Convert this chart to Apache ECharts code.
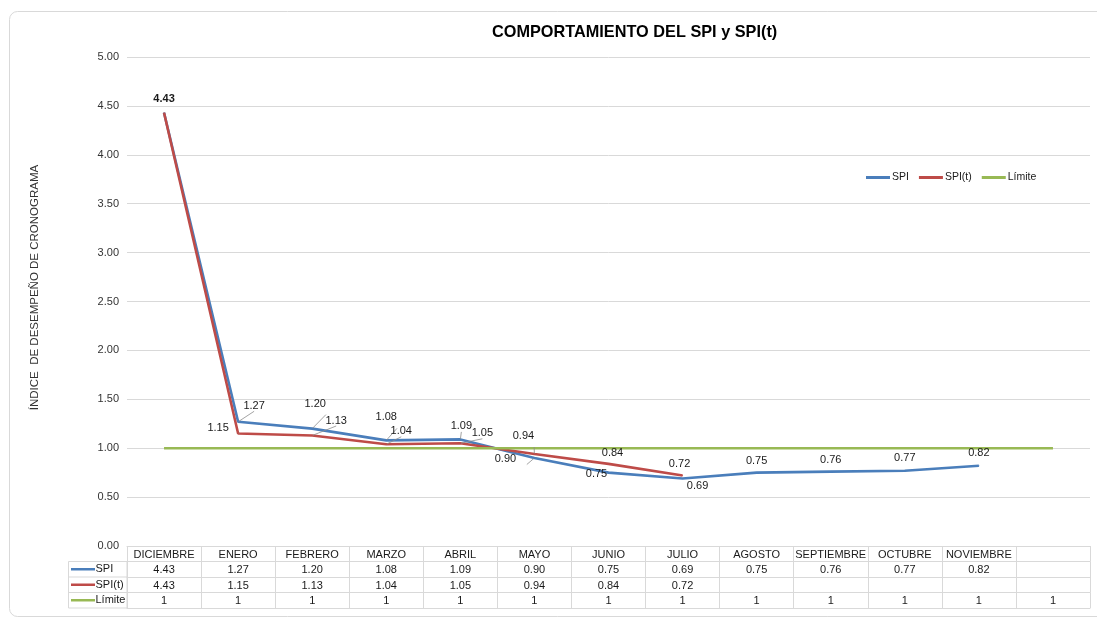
<!DOCTYPE html>
<html>
<head>
<meta charset="utf-8">
<script src="https://cdn.jsdelivr.net/npm/echarts@6/dist/echarts.min.js"></script>
<style>
  html, body { margin: 0; padding: 0; background: #fff; }
  #main { width: 1097px; height: 619px; }
</style>
</head>
<body>
<div id="main"></div>
<script>
// datos
const meses = ["DICIEMBRE", "ENERO", "FEBRERO", "MARZO", "ABRIL", "MAYO", "JUNIO", "JULIO", "AGOSTO", "SEPTIEMBRE", "OCTUBRE", "NOVIEMBRE", ""];
const spi = [4.43, 1.27, 1.20, 1.08, 1.09, 0.90, 0.75, 0.69, 0.75, 0.76, 0.77, 0.82, null];
const spiT = [4.43, 1.15, 1.13, 1.04, 1.05, 0.94, 0.84, 0.72, null, null, null, null, null];
const limite = [1, 1, 1, 1, 1, 1, 1, 1, 1, 1, 1, 1, 1];

// posicion de las etiquetas (desplazamiento desde el punto) y lineas guia
const spiLabelOffset = [[0, -14], [16, -16], [3, -25], [0, -23], [1, -13], [-29, 1], [-12, 1.5], [15, 7.5], [0, -12], [0, -12], [0, -13], [0, -12.5], [0, 0]];
const spiLeader = [0, 1, 1, 1, 1, 1, 0, 0, 0, 0, 0, 0, 0];
const spiTLabelOffset = [[0, 0], [-20, -6], [24, -15], [15, -13], [22, -10], [-11, -18], [4, -10.5], [-3, -12], [0, 0], [0, 0], [0, 0], [0, 0], [0, 0]];
const spiTLeader = [0, 1, 1, 1, 1, 1, 0, 0, 0, 0, 0, 0, 0];

const AZUL = "#4a7ebb";
const ROJO = "#be4b48";
const VERDE = "#98b954";
const BORDE = "#d9d9d9";
const FONT = "Liberation Sans, Arial, sans-serif";

const gridLeft = 127, gridTop = 57, gridBottom = 73, rowH = 15.5;
const axisY = 619 - gridBottom;

function fmt(v) {
  return v == null ? "" : v.toFixed(2);
}

function puntos(valores, offsets, leader, ocultarPrimero, negrita) {
  return valores.map((v, i) => ({
    value: v,
    label: {
      show: v != null && !(ocultarPrimero && i === 0),
      offset: offsets[i],
      fontWeight: negrita && i === 0 ? "bold" : "normal",
    },
    labelLine: { show: !!leader[i] },
  }));
}

function filaTabla(datos, offset, ticks) {
  return {
    type: "category",
    data: datos,
    position: "bottom",
    offset: offset,
    boundaryGap: true,
    axisLine: { show: true, lineStyle: { color: BORDE, width: 1 } },
    axisTick: { show: ticks, length: rowH, interval: 0, lineStyle: { color: BORDE } },
    axisLabel: { show: true, interval: 0, margin: 3, fontSize: 11, color: "#1a1a1a", fontFamily: FONT },
    splitLine: { show: false },
  };
}

let myChart = echarts.init(document.getElementById("main"));

const serieBase = {
  type: "line",
  symbol: "circle",
  symbolSize: 1,
  showSymbol: true,
  emphasis: { disabled: true },
  label: {
    show: true,
    position: "inside",
    fontSize: 11,
    color: "#1a1a1a",
    fontFamily: FONT,
    formatter: (p) => fmt(p.value),
  },
  labelLine: { lineStyle: { color: "#8c8c8c", width: 0.8 } },
};

// fila izquierda de la tabla (leyenda)
const filas = [["SPI", AZUL], ["SPI(t)", ROJO], ["Límite", VERDE]];
const graficos = [
  {
    type: "rect",
    shape: { x: 9.5, y: 11.5, width: 1100, height: 605, r: 8 },
    style: { fill: "none", stroke: BORDE, lineWidth: 1 },
    silent: true,
  },
  {
    type: "rect",
    shape: { x: 68.5, y: axisY + rowH, width: gridLeft - 68.5, height: rowH * 3 },
    style: { fill: "none", stroke: BORDE, lineWidth: 1 },
    silent: true,
  },
];
filas.forEach((f, i) => {
  const yc = axisY + rowH * (i + 1) + rowH / 2;
  if (i > 0) {
    graficos.push({
      type: "line",
      shape: { x1: 68.5, y1: axisY + rowH * (i + 1), x2: gridLeft, y2: axisY + rowH * (i + 1) },
      style: { stroke: BORDE, lineWidth: 1 },
      silent: true,
    });
  }
  graficos.push({
    type: "line",
    shape: { x1: 71, y1: yc, x2: 95, y2: yc },
    style: { stroke: f[1], lineWidth: 2.5 },
    silent: true,
  });
  graficos.push({
    type: "text",
    x: 95.5,
    y: yc,
    style: { text: f[0], fontSize: 11, fill: "#1a1a1a", fontFamily: FONT, verticalAlign: "middle" },
    silent: true,
  });
});

myChart.setOption({
  animation: false,
  backgroundColor: "#ffffff",
  textStyle: { fontFamily: FONT },
  title: {
    text: "COMPORTAMIENTO DEL SPI y SPI(t)",
    left: 487,
    top: 20,
    textStyle: { fontSize: 16.3, fontWeight: "bold", color: "#000", fontFamily: FONT },
  },
  legend: {
    left: 861,
    top: 167,
    itemWidth: 24,
    itemHeight: 3,
    itemGap: 10,
    icon: "rect",
    textStyle: { fontSize: 10.5, color: "#1a1a1a", fontFamily: FONT, padding: [0, 0, 0, -3] },
    data: ["SPI", "SPI(t)", "Límite"],
  },
  grid: { left: gridLeft, right: 7, top: gridTop, bottom: gridBottom, containLabel: false, outerBoundsMode: "none" },
  xAxis: [
    filaTabla(meses, 0, true),
    filaTabla(spi.map(fmt), rowH, true),
    filaTabla(spiT.map(fmt), rowH * 2, true),
    filaTabla(limite.map(String), rowH * 3, true),
    Object.assign(filaTabla(meses.map(() => ""), rowH * 4, false), { axisLabel: { show: false } }),
  ],
  yAxis: {
    type: "value",
    min: 0,
    max: 5,
    interval: 0.5,
    name: "ÍNDICE  DE DESEMPEÑO DE CRONOGRAMA",
    nameLocation: "middle",
    nameGap: 86,
    nameTextStyle: { fontSize: 11.5, color: "#333", fontFamily: FONT, padding: [0, 0, 0, 28] },
    axisLine: { show: false },
    axisTick: { show: false },
    axisLabel: { fontSize: 11, color: "#333", margin: 8, formatter: (v) => v.toFixed(2), fontFamily: FONT },
    splitLine: { lineStyle: { color: BORDE, width: 1 } },
  },
  series: [
    Object.assign({}, serieBase, {
      name: "SPI",
      data: puntos(spi, spiLabelOffset, spiLeader, false, true),
      itemStyle: { color: AZUL },
      lineStyle: { color: AZUL, width: 2.6 },
    }),
    Object.assign({}, serieBase, {
      name: "SPI(t)",
      data: puntos(spiT, spiTLabelOffset, spiTLeader, true, false),
      itemStyle: { color: ROJO },
      lineStyle: { color: ROJO, width: 2.6 },
    }),
    {
      name: "Límite",
      type: "line",
      data: limite,
      showSymbol: false,
      symbol: "none",
      emphasis: { disabled: true },
      itemStyle: { color: VERDE },
      lineStyle: { color: VERDE, width: 2.6 },
    },
  ],
  graphic: graficos,
});
</script>
</body>
</html>
